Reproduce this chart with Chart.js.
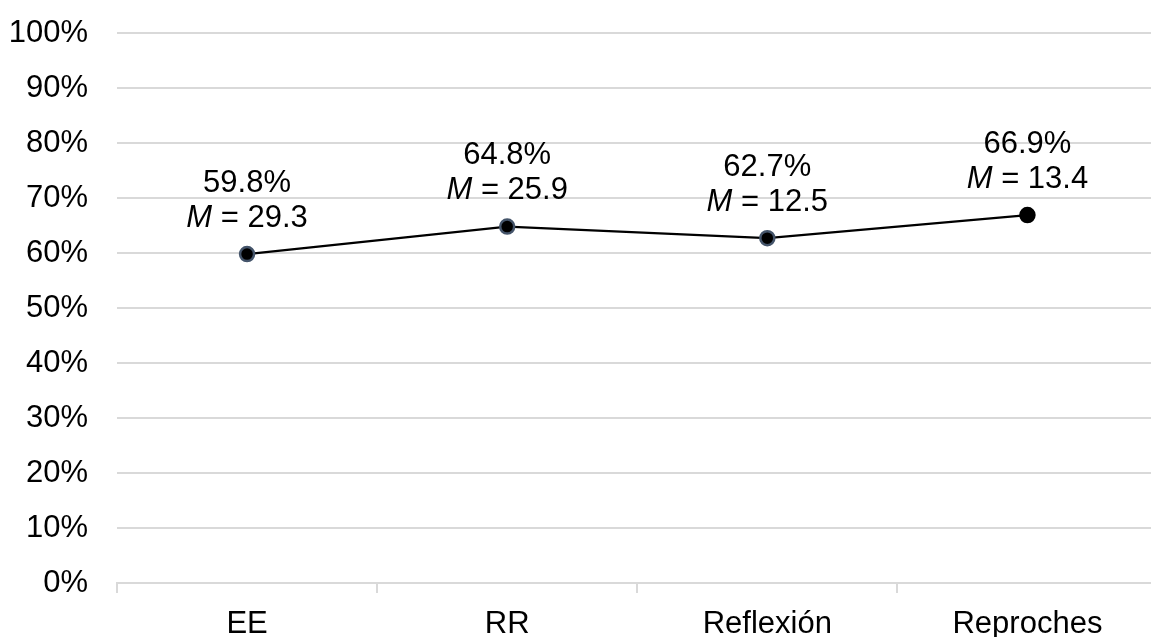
<!DOCTYPE html>
<html>
<head>
<meta charset="utf-8">
<script src="https://cdn.jsdelivr.net/npm/chart.js@4.4.1/dist/chart.umd.min.js"></script>
<style>
  html, body { margin: 0; padding: 0; background: #ffffff; overflow: hidden; }
  #wrap { width: 1151px; height: 637px; overflow: hidden; position: relative; }
  canvas { display: block; }
</style>
</head>
<body>
<div id="wrap"><canvas id="c" width="1167" height="637"></canvas></div>
<script>
const categories = ["EE", "RR", "Reflexión", "Reproches"];
const percentValues = [59.8, 64.8, 62.7, 66.9];
const meanValues = ["29.3", "25.9", "12.5", "13.4"];
const pointBorders = ["#44546A", "#44546A", "#44546A", "#000000"];

const FONT = "'Liberation Sans', Arial, sans-serif";
const FS = 31;

const labelPlugin = {
  id: 'twoLineLabels',
  afterDatasetsDraw(chart) {
    const ctx = chart.ctx;
    const meta = chart.getDatasetMeta(0);
    ctx.save();
    ctx.fillStyle = '#000000';
    ctx.textBaseline = 'middle';
    meta.data.forEach((pt, i) => {
      const x = pt.x, y = pt.y;
      ctx.font = FS + 'px ' + FONT;
      ctx.textAlign = 'center';
      ctx.fillText(percentValues[i].toFixed(1) + '%', x, y - 71);
      const rest = ' = ' + meanValues[i];
      ctx.font = 'italic ' + FS + 'px ' + FONT;
      const wM = ctx.measureText('M').width;
      ctx.font = FS + 'px ' + FONT;
      const wR = ctx.measureText(rest).width;
      const start = x - (wM + wR) / 2;
      ctx.textAlign = 'left';
      ctx.font = 'italic ' + FS + 'px ' + FONT;
      ctx.fillText('M', start, y - 36);
      ctx.font = FS + 'px ' + FONT;
      ctx.fillText(rest, start + wM, y - 36);
    });
    ctx.restore();
  }
};

new Chart(document.getElementById('c'), {
  type: 'line',
  data: {
    labels: categories,
    datasets: [{
      data: percentValues,
      borderColor: '#000000',
      borderWidth: 2.25,
      pointRadius: 7,
      pointBackgroundColor: '#000000',
      pointBorderColor: pointBorders,
      pointBorderWidth: 2.5,
      tension: 0,
      fill: false
    }]
  },
  options: {
    responsive: false,
    animation: false,
    devicePixelRatio: 1,
    layout: { padding: { top: 33, right: 0, left: 0, bottom: 0 } },
    plugins: { legend: { display: false }, tooltip: { enabled: false } },
    scales: {
      x: {
        offset: true,
        grid: { offset: true, drawOnChartArea: false, drawTicks: true, tickLength: 10, color: '#d9d9d9', lineWidth: 2 },
        border: { color: '#d9d9d9', width: 2 },
        ticks: { color: '#000000', font: { family: FONT, size: FS }, padding: 13, maxRotation: 0 },
        afterFit(scale) { scale.height = 54; scale.paddingLeft = 0; scale.paddingRight = 0; scale.paddingTop = 0; scale.paddingBottom = 0; }
      },
      y: {
        min: 0, max: 100,
        ticks: { stepSize: 10, color: '#000000', font: { family: FONT, size: FS }, padding: 29,
                 callback: v => v + '%' },
        grid: { color: '#d9d9d9', lineWidth: 2, drawTicks: false },
        border: { display: false },
        afterFit(scale) { scale.width = 117; scale.paddingTop = 0; scale.paddingBottom = 0; scale.paddingLeft = 0; scale.paddingRight = 0; }
      }
    }
  },
  plugins: [labelPlugin]
});
</script>
</body>
</html>
